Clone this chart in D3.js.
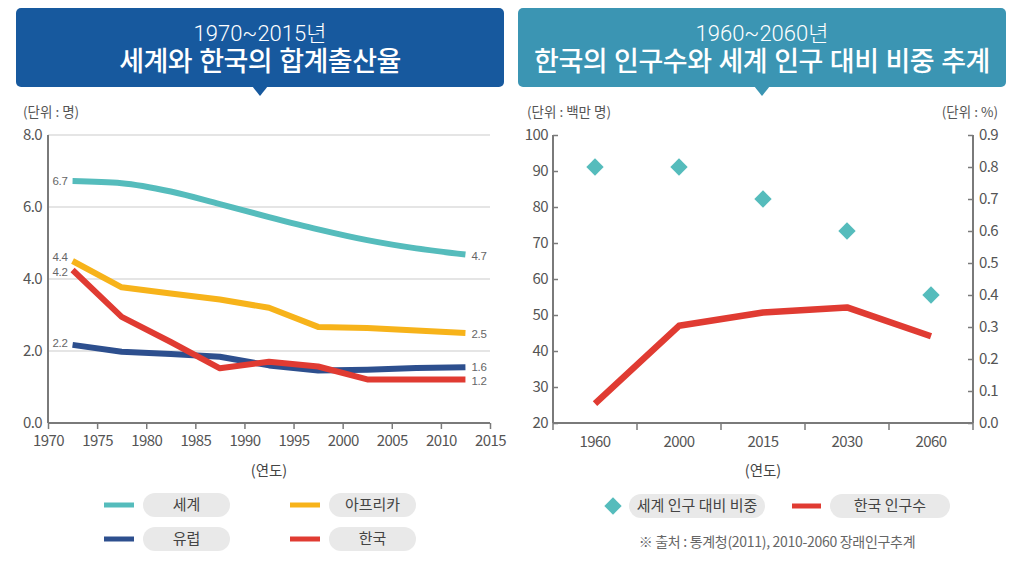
<!DOCTYPE html>
<html><head><meta charset="utf-8">
<script src="https://cdn.jsdelivr.net/npm/d3@7"></script>
<style>
html,body{margin:0;padding:0;background:#fff;}
svg{display:block;font-family:"Noto Sans CJK KR","Noto Sans",sans-serif;}
</style></head>
<body>
<svg id="c" width="1023" height="568"></svg>
<script>
// ---------- DATA ----------
const tfrYears = [1972.5, 1977.5, 1982.5, 1987.5, 1992.5, 1997.5, 2002.5, 2007.5, 2012.5];
const tfrWorld  = [6.72, 6.66, 6.43, 6.08, 5.72, 5.38, 5.08, 4.85, 4.68];
const tfrAfrica = [4.50, 3.77, 3.60, 3.43, 3.20, 2.67, 2.64, 2.57, 2.50];
const tfrEurope = [2.17, 1.98, 1.92, 1.84, 1.60, 1.46, 1.48, 1.53, 1.55];
const tfrKorea  = [4.25, 2.95, 2.25, 1.52, 1.70, 1.57, 1.21, 1.21, 1.21];
const tfrNames  = ["세계", "아프리카", "유럽", "한국"];
const tfrStartLabels = ["6.7", "4.4", "2.2", "4.2"];
const tfrEndLabels   = ["4.7", "2.5", "1.6", "1.2"];
const tfrXTicks = [1970, 1975, 1980, 1985, 1990, 1995, 2000, 2005, 2010, 2015];
const tfrYTicks = [0, 2, 4, 6, 8];

const popYears = ["1960", "2000", "2015", "2030", "2060"];
const popKorea = [25.4, 47.0, 50.7, 52.1, 44.1];      // 백만 명
const popShare = [0.8, 0.8, 0.7, 0.6, 0.4];           // %
const popLeftTicks = [20, 30, 40, 50, 60, 70, 80, 90, 100];
const popRightTicks = [0, 0.1, 0.2, 0.3, 0.4, 0.5, 0.6, 0.7, 0.8, 0.9];
const popNames = ["세계 인구 대비 비중", "한국 인구수"];

// ---------- STYLE ----------
const cTeal = "#55bcbc", cYellow = "#f7b31a", cBlue = "#2d4f8e", cRed = "#e03b32";
const tfrColors = [cTeal, cYellow, cBlue, cRed];
const axisColor = "#7a7a7a", textColor = "#555";
const latinFirst = "'Liberation Sans','Noto Sans CJK KR',sans-serif";
const lightFirst = "Roboto,'Noto Sans CJK KR',sans-serif";

const svg = d3.select("#c");

// ---------- TITLE BOXES ----------
function titleBox(x0, x1, fill, l1, l2) {
  const g = svg.append("g");
  g.append("rect").attr("x", x0).attr("y", 8).attr("width", x1 - x0).attr("height", 79)
    .attr("rx", 5).attr("fill", fill);
  const cx = (x0 + x1) / 2;
  g.append("path").attr("d", `M${cx-8},86 L${cx+8},86 L${cx},96 Z`).attr("fill", fill);
  g.append("text").attr("x", cx).attr("y", 41).attr("text-anchor", "middle")
    .style("font-family", lightFirst)
    .attr("fill", "#fff").attr("font-size", 22).attr("font-weight", 300).text(l1);
  g.append("text").attr("x", cx).attr("y", 71).attr("text-anchor", "middle")
    .style("font-family", latinFirst)
    .attr("fill", "#fff").attr("font-size", 27).attr("font-weight", 500).attr("letter-spacing", -0.5).text(l2);
}
titleBox(16, 504, "#17599e", "1970~2015년", "세계와 한국의 합계출산율");
titleBox(518, 1006, "#3b95b3", "1960~2060년", "한국의 인구수와 세계 인구 대비 비중 추계");

// ---------- LEFT CHART ----------
const xL = d3.scaleLinear().domain([1970, 2015]).range([48, 490]);
const yL = d3.scaleLinear().domain([0, 8]).range([423, 135]);
const L = svg.append("g");

L.append("text").attr("x", 23).attr("y", 117).attr("font-size", 13.5).attr("fill", textColor).text("(단위 : 명)");

// gridlines
L.selectAll(".gl").data(tfrYTicks.filter(d => d > 0)).join("line")
  .attr("x1", xL(1970)).attr("x2", xL(2015)).attr("y1", d => yL(d)).attr("y2", d => yL(d))
  .attr("stroke", "#dcdcdc").attr("stroke-width", 1.5);

// y axis
const yAxL = L.append("g").attr("transform", `translate(${xL(1970)},0)`)
  .call(d3.axisLeft(yL).tickValues(tfrYTicks).tickFormat(d3.format(".1f")).tickSize(0).tickPadding(6));
// x axis
const xAxL = L.append("g").attr("transform", `translate(0,${yL(0)})`)
  .call(d3.axisBottom(xL).tickValues(tfrXTicks).tickFormat(d3.format("d")).tickSize(6).tickPadding(6));
[yAxL, xAxL].forEach(a => {
  a.select(".domain").attr("stroke", axisColor).attr("stroke-width", 2);
  a.selectAll(".tick line").attr("stroke", axisColor).attr("stroke-width", 1.5);
  a.selectAll(".tick text").attr("fill", textColor).attr("font-size", 15)
    .attr("font-family", "'Noto Sans CJK KR',sans-serif").attr("letter-spacing", -0.6);
});
xAxL.select(".domain").attr("d", `M${xL(1970)},0H${xL(2015)}`);
yAxL.select(".domain").attr("d", `M0,${yL(0)}V${yL(8)}`);

L.append("text").attr("x", (xL(1970) + xL(2015)) / 2).attr("y", 476).attr("text-anchor", "middle")
  .attr("font-size", 14.5).attr("fill", "#444").text("(연도)");

const tfrSeries = [tfrWorld, tfrAfrica, tfrEurope, tfrKorea];
const curves = [d3.curveMonotoneX, d3.curveLinear, d3.curveLinear, d3.curveLinear];
tfrSeries.forEach((vals, i) => {
  const line = d3.line().x((d, j) => xL(tfrYears[j])).y(d => yL(d)).curve(curves[i]);
  L.append("path").datum(vals).attr("d", line).attr("fill", "none")
    .attr("stroke", tfrColors[i]).attr("stroke-width", 6).attr("stroke-linejoin", "round");
});
// value labels
const startDy = [0, -4, -2, 2];
const endDy = [1, 1, -0.5, 1.5];
tfrSeries.forEach((vals, i) => {
  L.append("text").attr("x", xL(tfrYears[0]) - 5).attr("y", yL(vals[0]) + startDy[i]).attr("dy", "0.35em")
    .attr("text-anchor", "end").attr("font-size", 11.5).attr("fill", "#666").attr("letter-spacing", -0.3)
    .style("font-family", latinFirst).text(tfrStartLabels[i]);
  L.append("text").attr("x", xL(tfrYears[tfrYears.length - 1]) + 6).attr("y", yL(vals[vals.length - 1]) + endDy[i]).attr("dy", "0.35em")
    .attr("text-anchor", "start").attr("font-size", 11.5).attr("fill", "#666").attr("letter-spacing", -0.3)
    .style("font-family", latinFirst).text(tfrEndLabels[i]);
});

// legend
const legL = [{i: 0, x: 104, y: 505}, {i: 1, x: 290, y: 505}, {i: 2, x: 104, y: 539}, {i: 3, x: 290, y: 539}];
legL.forEach(p => {
  const g = L.append("g");
  g.append("line").attr("x1", p.x).attr("x2", p.x + 30).attr("y1", p.y).attr("y2", p.y)
    .attr("stroke", tfrColors[p.i]).attr("stroke-width", 5);
  g.append("rect").attr("x", p.x + 39).attr("y", p.y - 12).attr("width", 87).attr("height", 24)
    .attr("rx", 12).attr("fill", "#e9e9e9");
  g.append("text").attr("x", p.x + 39 + 43.5).attr("y", p.y).attr("dy", "0.36em").attr("text-anchor", "middle")
    .attr("font-size", 15).attr("fill", "#444").text(tfrNames[p.i]);
});

// ---------- RIGHT CHART ----------
const xR = d3.scaleBand().domain(popYears).range([553, 973]).padding(0);
const yR = d3.scaleLinear().domain([20, 100]).range([423, 135]);
const yR2 = d3.scaleLinear().domain([0, 0.9]).range([423, 135]);
const R = svg.append("g");

R.append("text").attr("x", 527).attr("y", 117).attr("font-size", 13.5).attr("fill", textColor).text("(단위 : 백만 명)");
R.append("text").attr("x", 998).attr("y", 117).attr("text-anchor", "end").attr("font-size", 13.5).attr("fill", textColor).text("(단위 : %)");

const yAxR = R.append("g").attr("transform", `translate(553,0)`)
  .call(d3.axisRight(yR).tickValues(popLeftTicks).tickSize(5).tickPadding(0));
yAxR.selectAll(".tick text").attr("x", -5).attr("text-anchor", "end");
const yAxR2 = R.append("g").attr("transform", `translate(973,0)`)
  .call(d3.axisLeft(yR2).tickValues(popRightTicks).tickFormat(d3.format(".1f")).tickSize(5).tickPadding(0));
yAxR2.selectAll(".tick text").attr("x", 6).attr("text-anchor", "start");
const xAxR = R.append("g").attr("transform", `translate(0,423)`)
  .call(d3.axisBottom(xR).tickSize(0).tickPadding(13));
// band-edge ticks
const edges = popYears.map(d => xR(d)).concat([xR(popYears[popYears.length - 1]) + xR.bandwidth()]);
xAxR.selectAll(".edge").data(edges).join("line").attr("class", "edge")
  .attr("x1", d => d).attr("x2", d => d).attr("y1", 0).attr("y2", 7)
  .attr("stroke", axisColor).attr("stroke-width", 1.5);
[yAxR, yAxR2, xAxR].forEach(a => {
  a.select(".domain").attr("stroke", axisColor).attr("stroke-width", 2);
  a.selectAll(".tick line").attr("stroke", axisColor).attr("stroke-width", 1.5);
  a.selectAll(".tick text").attr("fill", textColor).attr("font-size", 15)
    .attr("font-family", "'Noto Sans CJK KR',sans-serif").attr("letter-spacing", -0.6);
});
yAxR.select(".domain").attr("d", `M0,423V135`);
yAxR2.select(".domain").attr("d", `M0,423V135`);
xAxR.select(".domain").attr("d", `M553,0H973`);

R.append("text").attr("x", 763).attr("y", 476).attr("text-anchor", "middle")
  .attr("font-size", 14.5).attr("fill", "#444").text("(연도)");

const popLine = d3.line().x((d, j) => xR(popYears[j]) + xR.bandwidth() / 2).y(d => yR(d));
R.append("path").datum(popKorea).attr("d", popLine).attr("fill", "none")
  .attr("stroke", cRed).attr("stroke-width", 6.5).attr("stroke-linejoin", "round");

const diamond = d3.symbol().type(d3.symbolSquare).size(150);
R.selectAll(".dm").data(popShare).join("path").attr("class", "dm")
  .attr("d", diamond)
  .attr("transform", (d, j) => `translate(${xR(popYears[j]) + xR.bandwidth() / 2},${yR2(d)}) rotate(45)`)
  .attr("fill", cTeal);

// legend right
const lg = R.append("g");
lg.append("path").attr("d", diamond).attr("transform", "translate(613,506) rotate(45)").attr("fill", cTeal);
lg.append("rect").attr("x", 629).attr("y", 494).attr("width", 136).attr("height", 24).attr("rx", 12).attr("fill", "#e9e9e9");
lg.append("text").attr("x", 697).attr("y", 506).attr("dy", "0.36em").attr("text-anchor", "middle")
  .attr("font-size", 15).attr("fill", "#444").text(popNames[0]);
lg.append("line").attr("x1", 792).attr("x2", 821).attr("y1", 506).attr("y2", 506).attr("stroke", cRed).attr("stroke-width", 5);
lg.append("rect").attr("x", 830).attr("y", 494).attr("width", 120).attr("height", 24).attr("rx", 12).attr("fill", "#e9e9e9");
lg.append("text").attr("x", 890).attr("y", 506).attr("dy", "0.36em").attr("text-anchor", "middle")
  .attr("font-size", 15).attr("fill", "#444").text(popNames[1]);

R.append("text").attr("x", 777).attr("y", 542).attr("dy", "0.36em").attr("text-anchor", "middle")
  .attr("font-size", 14).attr("fill", "#666").attr("letter-spacing", -0.3)
  .text("※ 출처 : 통계청(2011), 2010-2060 장래인구추계");
</script>
</body></html>
